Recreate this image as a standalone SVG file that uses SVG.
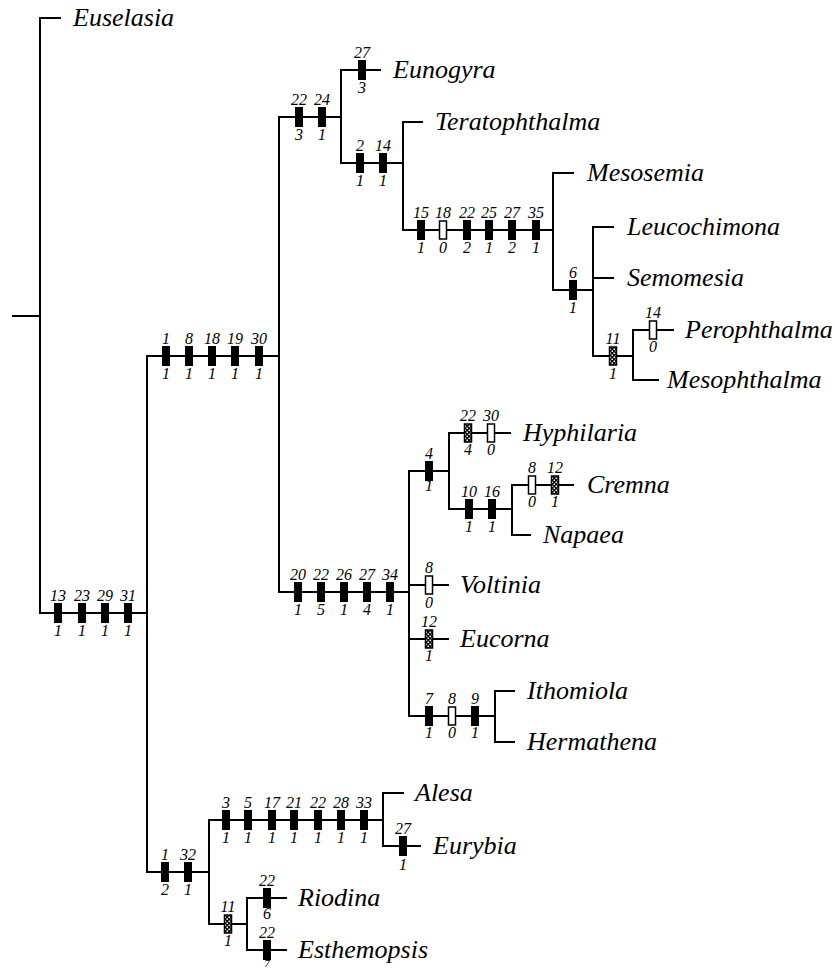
<svg xmlns="http://www.w3.org/2000/svg" width="835" height="970" viewBox="0 0 835 970">
<style>
.ln{fill:none;stroke:#000;stroke-width:2;stroke-linecap:square}
.tx{font-family:"Liberation Serif","Times New Roman",serif;font-style:italic;font-size:26px;fill:#000}
.lb{font-family:"Liberation Serif","Times New Roman",serif;font-style:italic;font-size:16px;fill:#000;text-anchor:middle}
.f{fill:#000}
.h{fill:#fff;stroke:#000;stroke-width:1.5}
.c{fill:url(#chk);stroke:#000;stroke-width:1.5}
</style>
<defs>
<pattern id="chk" patternUnits="userSpaceOnUse" width="4" height="4">
<rect width="4" height="4" fill="#000"/>
<rect x="0.5" y="0.5" width="1.6" height="1.6" fill="#fff"/>
<rect x="2.5" y="2.5" width="1.6" height="1.6" fill="#fff"/>
</pattern>
<rect id="mf" x="-4" y="-10" width="8" height="20" class="f"/>
<rect id="mh" x="-3.5" y="-9" width="7" height="18" class="h"/>
<rect id="mc" x="-3.5" y="-9" width="7" height="18" class="c"/>
</defs>
<rect width="835" height="970" fill="#fff"/>

<g id="connectors" class="ln">
<path d="M13,316H40M40,18V613M40,18H60"/>
<path d="M40,613H147M147,356V872"/>
<path d="M147,356H279M279,117V592"/>
<path d="M279,117H341M341,70V163M341,70H380"/>
<path d="M341,163H403M403,122V230M403,122H422"/>
<path d="M403,230H553M553,173V290M553,173H573"/>
<path d="M553,290H593M593,227V356M593,227H613M593,278H613"/>
<path d="M593,356H633M633,330V380M633,330H673M633,380H658"/>
<path d="M279,592H409M409,471V716"/>
<path d="M409,471H449M449,433V509M449,433H510"/>
<path d="M449,509H512M512,485V535M512,485H573M512,535H530"/>
<path d="M409,585H448M409,639H448"/>
<path d="M409,716H495M495,691V742M495,691H514M495,742H514"/>
<path d="M147,872H209M209,820V924"/>
<path d="M209,820H383M383,793V846M383,793H403M383,846H420"/>
<path d="M209,924H247M247,898V950M247,898H286M247,950H286"/>
</g>

<g id="markers">
<g id="br-A">
<use href="#mf" x="58" y="613"/><use href="#mf" x="82" y="613"/><use href="#mf" x="105" y="613"/><use href="#mf" x="128" y="613"/>
<text class="lb" x="58" y="601">13</text><text class="lb" x="82" y="601">23</text><text class="lb" x="105" y="601">29</text><text class="lb" x="128" y="601">31</text>
<text class="lb" x="58" y="636">1</text><text class="lb" x="82" y="636">1</text><text class="lb" x="105" y="636">1</text><text class="lb" x="128" y="636">1</text>
</g>
<g id="br-B">
<use href="#mf" x="166" y="356"/><use href="#mf" x="189" y="356"/><use href="#mf" x="212" y="356"/><use href="#mf" x="235" y="356"/><use href="#mf" x="259" y="356"/>
<text class="lb" x="166" y="344">1</text><text class="lb" x="189" y="344">8</text><text class="lb" x="212" y="344">18</text><text class="lb" x="235" y="344">19</text><text class="lb" x="259" y="344">30</text>
<text class="lb" x="166" y="379">1</text><text class="lb" x="189" y="379">1</text><text class="lb" x="212" y="379">1</text><text class="lb" x="235" y="379">1</text><text class="lb" x="259" y="379">1</text>
</g>
<g id="br-C">
<use href="#mf" x="299" y="117"/><use href="#mf" x="322" y="117"/>
<text class="lb" x="299" y="105">22</text><text class="lb" x="322" y="105">24</text>
<text class="lb" x="299" y="140">3</text><text class="lb" x="322" y="140">1</text>
</g>
<g id="br-Eunogyra">
<use href="#mf" x="362" y="70"/>
<text class="lb" x="362" y="58">27</text><text class="lb" x="362" y="93">3</text>
</g>
<g id="br-D">
<use href="#mf" x="360" y="163"/><use href="#mf" x="383" y="163"/>
<text class="lb" x="360" y="151">2</text><text class="lb" x="383" y="151">14</text>
<text class="lb" x="360" y="186">1</text><text class="lb" x="383" y="186">1</text>
</g>
<g id="br-E">
<use href="#mf" x="421" y="230"/><use href="#mh" x="443" y="230"/><use href="#mf" x="467" y="230"/><use href="#mf" x="489" y="230"/><use href="#mf" x="512" y="230"/><use href="#mf" x="536" y="230"/>
<text class="lb" x="421" y="218">15</text><text class="lb" x="443" y="218">18</text><text class="lb" x="467" y="218">22</text><text class="lb" x="489" y="218">25</text><text class="lb" x="512" y="218">27</text><text class="lb" x="536" y="218">35</text>
<text class="lb" x="421" y="253">1</text><text class="lb" x="443" y="253">0</text><text class="lb" x="467" y="253">2</text><text class="lb" x="489" y="253">1</text><text class="lb" x="512" y="253">2</text><text class="lb" x="536" y="253">1</text>
</g>
<g id="br-F">
<use href="#mf" x="573" y="290"/>
<text class="lb" x="573" y="278">6</text><text class="lb" x="573" y="313">1</text>
</g>
<g id="br-G">
<use href="#mc" x="613" y="356"/>
<text class="lb" x="613" y="344">11</text><text class="lb" x="613" y="379">1</text>
</g>
<g id="br-Perophthalma">
<use href="#mh" x="653" y="330"/>
<text class="lb" x="653" y="318">14</text><text class="lb" x="653" y="352">0</text>
</g>
<g id="br-H">
<use href="#mf" x="298" y="592"/><use href="#mf" x="321" y="592"/><use href="#mf" x="344" y="592"/><use href="#mf" x="367" y="592"/><use href="#mf" x="390" y="592"/>
<text class="lb" x="298" y="580">20</text><text class="lb" x="321" y="580">22</text><text class="lb" x="344" y="580">26</text><text class="lb" x="367" y="580">27</text><text class="lb" x="390" y="580">34</text>
<text class="lb" x="298" y="615">1</text><text class="lb" x="321" y="615">5</text><text class="lb" x="344" y="615">1</text><text class="lb" x="367" y="615">4</text><text class="lb" x="390" y="615">1</text>
</g>
<g id="br-I">
<use href="#mf" x="429" y="471"/>
<text class="lb" x="429" y="459">4</text><text class="lb" x="429" y="491">1</text>
</g>
<g id="br-Hyphilaria">
<use href="#mc" x="468" y="433"/><use href="#mh" x="491" y="433"/>
<text class="lb" x="468" y="421">22</text><text class="lb" x="491" y="421">30</text>
<text class="lb" x="468" y="455">4</text><text class="lb" x="491" y="455">0</text>
</g>
<g id="br-J">
<use href="#mf" x="469" y="509"/><use href="#mf" x="492" y="509"/>
<text class="lb" x="469" y="497">10</text><text class="lb" x="492" y="497">16</text>
<text class="lb" x="469" y="532">1</text><text class="lb" x="492" y="532">1</text>
</g>
<g id="br-Cremna">
<use href="#mh" x="532" y="485"/><use href="#mc" x="555" y="485"/>
<text class="lb" x="532" y="473">8</text><text class="lb" x="555" y="473">12</text>
<text class="lb" x="532" y="507">0</text><text class="lb" x="555" y="507">1</text>
</g>
<g id="br-Voltinia">
<use href="#mh" x="429" y="585"/>
<text class="lb" x="429" y="573">8</text><text class="lb" x="429" y="608">0</text>
</g>
<g id="br-Eucorna">
<use href="#mc" x="429" y="639"/>
<text class="lb" x="429" y="627">12</text><text class="lb" x="429" y="661">1</text>
</g>
<g id="br-K">
<use href="#mf" x="429" y="716"/><use href="#mh" x="452" y="716"/><use href="#mf" x="475" y="716"/>
<text class="lb" x="429" y="704">7</text><text class="lb" x="452" y="704">8</text><text class="lb" x="475" y="704">9</text>
<text class="lb" x="429" y="738">1</text><text class="lb" x="452" y="738">0</text><text class="lb" x="475" y="738">1</text>
</g>
<g id="br-L">
<use href="#mf" x="165" y="872"/><use href="#mf" x="188" y="872"/>
<text class="lb" x="165" y="860">1</text><text class="lb" x="188" y="860">32</text>
<text class="lb" x="165" y="895">2</text><text class="lb" x="188" y="895">1</text>
</g>
<g id="br-M">
<use href="#mf" x="226" y="820"/><use href="#mf" x="248" y="820"/><use href="#mf" x="272" y="820"/><use href="#mf" x="294" y="820"/><use href="#mf" x="318" y="820"/><use href="#mf" x="341" y="820"/><use href="#mf" x="364" y="820"/>
<text class="lb" x="226" y="808">3</text><text class="lb" x="248" y="808">5</text><text class="lb" x="272" y="808">17</text><text class="lb" x="294" y="808">21</text><text class="lb" x="318" y="808">22</text><text class="lb" x="341" y="808">28</text><text class="lb" x="364" y="808">33</text>
<text class="lb" x="226" y="843">1</text><text class="lb" x="248" y="843">1</text><text class="lb" x="272" y="843">1</text><text class="lb" x="294" y="843">1</text><text class="lb" x="318" y="843">1</text><text class="lb" x="341" y="843">1</text><text class="lb" x="364" y="843">1</text>
</g>
<g id="br-Eurybia">
<use href="#mf" x="403" y="846"/>
<text class="lb" x="403" y="834">27</text><text class="lb" x="403" y="870">1</text>
</g>
<g id="br-N">
<use href="#mc" x="228" y="924"/>
<text class="lb" x="228" y="912">11</text><text class="lb" x="228" y="946">1</text>
</g>
<g id="br-Riodina">
<use href="#mf" x="267" y="898"/>
<text class="lb" x="267" y="886">22</text><text class="lb" x="267" y="919">6</text>
</g>
<g id="br-Esthemopsis">
<use href="#mf" x="267" y="950"/>
<text class="lb" x="267" y="938">22</text><text class="lb" x="267" y="967" style="font-size:11px">7</text>
</g>
</g>

<g id="taxa">
<g id="Euselasia"><text class="tx" x="73" y="26">Euselasia</text></g>
<g id="Eunogyra"><text class="tx" x="393" y="78">Eunogyra</text></g>
<g id="Teratophthalma"><text class="tx" x="435" y="130">Teratophthalma</text></g>
<g id="Mesosemia"><text class="tx" x="587" y="181">Mesosemia</text></g>
<g id="Leucochimona"><text class="tx" x="627" y="235">Leucochimona</text></g>
<g id="Semomesia"><text class="tx" x="627" y="286">Semomesia</text></g>
<g id="Perophthalma"><text class="tx" x="685" y="338">Perophthalma</text></g>
<g id="Mesophthalma"><text class="tx" x="667" y="388">Mesophthalma</text></g>
<g id="Hyphilaria"><text class="tx" x="523" y="441">Hyphilaria</text></g>
<g id="Cremna"><text class="tx" x="587" y="493">Cremna</text></g>
<g id="Napaea"><text class="tx" x="543" y="543">Napaea</text></g>
<g id="Voltinia"><text class="tx" x="460" y="593">Voltinia</text></g>
<g id="Eucorna"><text class="tx" x="460" y="647">Eucorna</text></g>
<g id="Ithomiola"><text class="tx" x="527" y="699">Ithomiola</text></g>
<g id="Hermathena"><text class="tx" x="527" y="750">Hermathena</text></g>
<g id="Alesa"><text class="tx" x="415" y="801">Alesa</text></g>
<g id="Eurybia"><text class="tx" x="433" y="854">Eurybia</text></g>
<g id="Riodina"><text class="tx" x="298" y="906">Riodina</text></g>
<g id="Esthemopsis"><text class="tx" x="298" y="958">Esthemopsis</text></g>
</g>
</svg>
